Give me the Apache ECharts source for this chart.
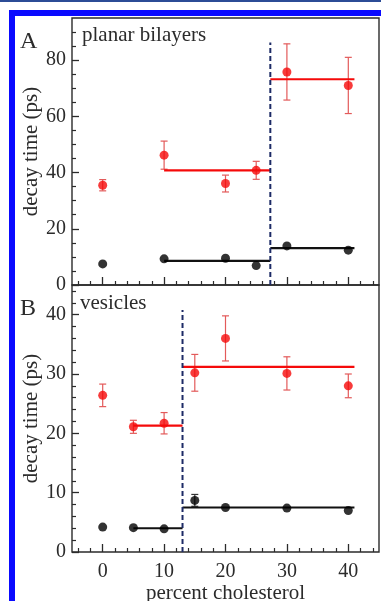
<!DOCTYPE html>
<html lang="en">
<head>
    <meta charset="UTF-8">
    <title>Decay time vs percent cholesterol</title>
    <script src="https://cdn.jsdelivr.net/npm/echarts@6/dist/echarts.min.js"></script>
    <style>
        html, body { margin: 0; padding: 0; background: #fff; }
        #chart { width: 381px; height: 601px; }
    </style>
</head>
<body>
    <div id="chart"></div>

    <script>
        // panel A: planar bilayers
        const xA = [0, 10, 20, 25, 30, 40];
        const redA = [35.5, 46.2, 36.1, 40.8, 75.8, 71.0];
        const redAErr = [2.0, 5.0, 3.0, 3.2, 10.0, 10.0];
        const blackA = [7.5, 9.3, 9.5, 6.9, 13.9, 12.4];
        // [x start, x end, level]
        const redFitA = [[10, 27.3, 40.8], [27.3, 41, 73.2]];
        const blackFitA = [[10, 27.3, 8.6], [27.3, 41, 13.1]];
        const dividerA = [27.3, 86.3];

        // panel B: vesicles
        const xB = [0, 5, 10, 15, 20, 30, 40];
        const redB = [26.4, 21.1, 21.7, 30.2, 36.0, 30.1, 28.0];
        const redBErr = [1.9, 1.1, 1.8, 3.1, 3.8, 2.8, 2.0];
        const blackB = [4.2, 4.1, 3.9, 8.7, 7.5, 7.4, 7.0];
        const blackBErr = [0, 0, 0, 1.0, 0, 0, 0];
        const redFitB = [[5, 13, 21.3], [13, 41, 31.2]];
        const blackFitB = [[5, 13, 4.0], [13, 41, 7.5]];
        const dividerB = [13, 40.8];

        // ticks
        const xMajor = [0, 10, 20, 30, 40];
        const xMinor = [-4, -2, 2, 4, 6, 8, 12, 14, 16, 18, 22, 24, 26, 28, 32, 34, 36, 38, 42, 44];
        const yMajorA = [0, 20, 40, 60, 80];
        const yMinorA = [5, 10, 15, 25, 30, 35, 45, 50, 55, 65, 70, 75, 85, 90];
        const yMajorB = [0, 10, 20, 30, 40];
        const yMinorB = [2, 4, 6, 8, 12, 14, 16, 18, 22, 24, 26, 28, 32, 34, 36, 38, 42, 44];

        const serif = '"Liberation Serif", "DejaVu Serif", serif';
        const ink = '#2b2b2b';
        const red = '#f50a0a';

        const chart = echarts.init(document.getElementById('chart'));

        function xAxisPair(grid, showLabels) {
            return [{
                gridIndex: grid, type: 'value', min: -5, max: 45, position: 'bottom',
                axisLine: { show: false, onZero: false },
                splitLine: { show: false },
                axisTick: { inside: true, length: 8, customValues: xMajor, lineStyle: { color: ink, width: 1.3 } },
                axisLabel: {
                    show: showLabels, customValues: xMajor, margin: 10,
                    fontFamily: serif, fontSize: 20, color: ink
                },
                name: showLabels ? 'percent cholesterol' : '',
                nameLocation: 'middle', nameGap: 31, nameMoveOverlap: false,
                nameTextStyle: { fontFamily: serif, fontSize: 21, color: ink }
            }, {
                gridIndex: grid, type: 'value', min: -5, max: 45, position: 'bottom',
                axisLine: { show: false, onZero: false },
                splitLine: { show: false },
                axisLabel: { show: false },
                axisTick: { inside: true, length: 4, customValues: xMinor, lineStyle: { color: ink, width: 1.2 } }
            }];
        }

        function yAxisPair(grid, max, major, minor) {
            return [{
                gridIndex: grid, type: 'value', min: 0, max: max, position: 'left',
                axisLine: { show: false, onZero: false },
                splitLine: { show: false },
                axisTick: { inside: true, length: 7, customValues: major, lineStyle: { color: ink, width: 1.3 } },
                axisLabel: { customValues: major, margin: 6, fontFamily: serif, fontSize: 20, color: ink },
                name: 'decay time (ps)', nameLocation: 'middle', nameGap: 30, nameMoveOverlap: false,
                nameTextStyle: { fontFamily: serif, fontSize: 21, color: ink }
            }, {
                gridIndex: grid, type: 'value', min: 0, max: max, position: 'left',
                axisLine: { show: false, onZero: false },
                splitLine: { show: false },
                axisLabel: { show: false },
                axisTick: { inside: true, length: 4, customValues: minor, lineStyle: { color: ink, width: 1.2 } }
            }];
        }

        function errorSeries(xs, ys, errs, color, xi, yi) {
            const data = xs.map((x, i) => [x, ys[i] - errs[i], ys[i] + errs[i]]).filter(d => d[2] > d[1]);
            return {
                type: 'custom', xAxisIndex: xi, yAxisIndex: yi, z: 3,
                data: data,
                renderItem: function (params, api) {
                    const lo = api.coord([api.value(0), api.value(1)]);
                    const hi = api.coord([api.value(0), api.value(2)]);
                    const w = 3.5;
                    const style = { stroke: color, lineWidth: 1.2 };
                    return {
                        type: 'group',
                        children: [
                            { type: 'line', shape: { x1: lo[0], y1: lo[1], x2: hi[0], y2: hi[1] }, style: style },
                            { type: 'line', shape: { x1: lo[0] - w, y1: lo[1], x2: lo[0] + w, y2: lo[1] }, style: style },
                            { type: 'line', shape: { x1: hi[0] - w, y1: hi[1], x2: hi[0] + w, y2: hi[1] }, style: style }
                        ]
                    };
                }
            };
        }

        function fitSeries(segs, color, xi, yi) {
            return segs.map(s => ({
                type: 'line', xAxisIndex: xi, yAxisIndex: yi, z: 4,
                data: [[s[0], s[2]], [s[1], s[2]]],
                showSymbol: false, symbol: 'none', silent: true,
                lineStyle: { color: color, width: 2.2 }
            }));
        }

        function dotSeries(xs, ys, color, xi, yi) {
            return {
                type: 'scatter', xAxisIndex: xi, yAxisIndex: yi, z: 5,
                data: xs.map((x, i) => [x, ys[i]]),
                symbol: 'circle', symbolSize: 9,
                itemStyle: { color: color }
            };
        }

        function dividerSeries(d, xi, yi) {
            return {
                type: 'line', xAxisIndex: xi, yAxisIndex: yi, z: 6,
                data: [[d[0], 0], [d[0], d[1]]],
                showSymbol: false, symbol: 'none', silent: true,
                lineStyle: { color: '#1d2b66', width: 2, type: [5, 3] }
            };
        }

        const option = {
            backgroundColor: '#fff',
            animation: false,
            grid: [
                { left: 72, top: 18, right: 2, height: 267, outerBoundsMode: 'none', show: true, borderColor: ink, borderWidth: 1.4, backgroundColor: 'transparent' },
                { left: 72, top: 285, right: 2, bottom: 49, outerBoundsMode: 'none', show: true, borderColor: ink, borderWidth: 1.4, backgroundColor: 'transparent' }
            ],
            xAxis: [...xAxisPair(0, false), ...xAxisPair(1, true)],
            yAxis: [...yAxisPair(0, 95, yMajorA, yMinorA), ...yAxisPair(1, 45, yMajorB, yMinorB)],
            series: [
                errorSeries(xA, redA, redAErr, '#e35a5a', 0, 0),
                ...fitSeries(redFitA, red, 0, 0),
                ...fitSeries(blackFitA, '#111', 0, 0),
                dotSeries(xA, redA, red, 0, 0),
                dotSeries(xA, blackA, '#000', 0, 0),
                dividerSeries(dividerA, 0, 0),

                errorSeries(xB, redB, redBErr, '#e35a5a', 2, 2),
                errorSeries(xB, blackB, blackBErr, '#333', 2, 2),
                ...fitSeries(redFitB, red, 2, 2),
                ...fitSeries(blackFitB, '#111', 2, 2),
                dotSeries(xB, redB, red, 2, 2),
                dotSeries(xB, blackB, '#000', 2, 2),
                dividerSeries(dividerB, 2, 2)
            ],
            graphic: [
                // frame of the figure
                { type: 'rect', shape: { x: 0, y: 0, width: 381, height: 2 }, style: { fill: '#2c4c96' } },
                { type: 'rect', shape: { x: 9, y: 10, width: 372, height: 6 }, style: { fill: '#0a0aff' } },
                { type: 'rect', shape: { x: 9, y: 10, width: 6, height: 591 }, style: { fill: '#0a0aff' } },
                // panel labels
                { type: 'text', left: 20, top: 30, style: { text: 'A', font: '24px ' + serif, fill: ink } },
                { type: 'text', left: 20, top: 297, style: { text: 'B', font: '24px ' + serif, fill: ink } },
                { type: 'text', left: 82, top: 25, style: { text: 'planar bilayers', font: '21px ' + serif, fill: ink } },
                { type: 'text', left: 80, top: 293, style: { text: 'vesicles', font: '21px ' + serif, fill: ink } }
            ]
        };

        chart.setOption(option);
    </script>
</body>
</html>
